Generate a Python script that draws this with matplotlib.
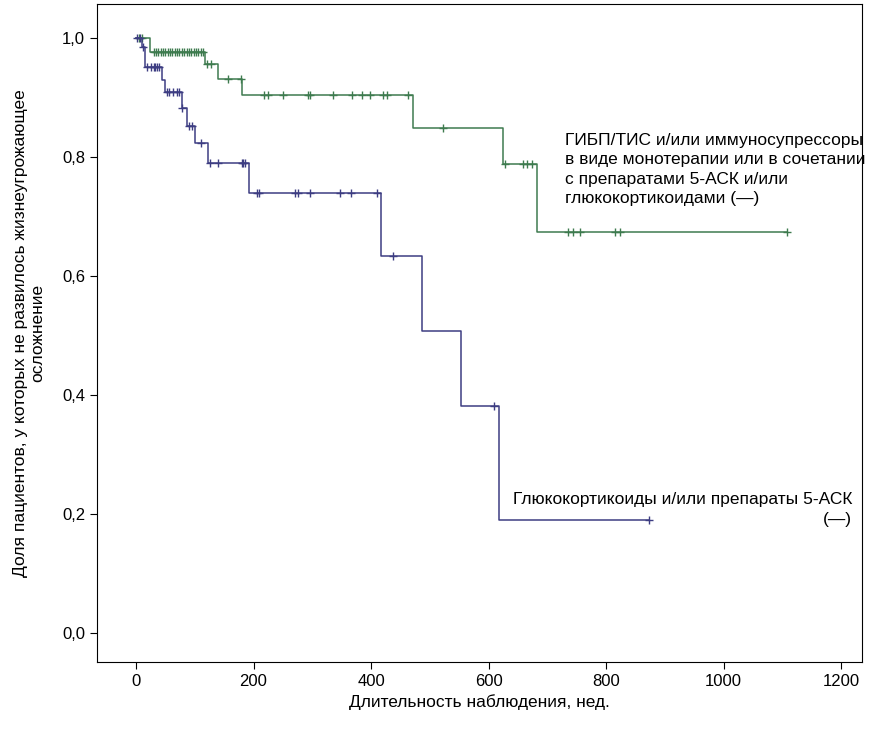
import matplotlib
matplotlib.use("Agg")
import matplotlib.pyplot as plt
import numpy as np

plt.rcParams['font.family'] = ['Liberation Sans', 'DejaVu Sans']

# Green group: step times and survival levels after each step
g_times = [0, 24, 117, 140, 180, 471, 625, 682]
g_levels = [1.0, 0.977, 0.956, 0.931, 0.904, 0.848, 0.788, 0.674]
g_end = 1108
g_cens = [5, 10, 30, 34, 38, 42, 46, 50, 54, 58, 62, 66, 70, 74, 78, 82, 86, 90, 94, 98, 102, 106, 110, 114,
          121, 128, 157, 179, 218, 225, 250, 293, 296, 335, 367, 384, 398, 420, 427, 463,
          523, 628, 659, 665, 674, 735, 744, 756, 815, 824, 1108]

# Blue group
b_times = [0, 10, 15, 44, 49, 78, 87, 100, 122, 192, 417, 487, 553, 618]
b_levels = [1.0, 0.985, 0.951, 0.929, 0.909, 0.882, 0.852, 0.824, 0.790, 0.740, 0.634, 0.508, 0.381, 0.190]
b_end = 873
b_cens = [2, 7, 12, 19, 25, 30, 33, 36, 39, 53, 57, 63, 70, 73, 78, 90, 95, 111, 126, 140, 180, 182, 185,
          206, 210, 271, 276, 296, 347, 366, 410, 438, 609, 873]

def level_at(times, levels, t):
    idx = np.searchsorted(times, t, side='right') - 1
    return levels[idx]

fig = plt.figure(figsize=(8.76, 7.33), dpi=100)
ax = fig.add_axes([97/876, 1-662/733, (862-97)/876, (662-4)/733])

green = '#3e7b4f'
blue = '#3d3d82'
for times, levels, end, cens, c in [(g_times, g_levels, g_end, g_cens, green),
                                     (b_times, b_levels, b_end, b_cens, blue)]:
    xs = list(times) + [end]
    ys = list(levels) + [levels[-1]]
    ax.step(xs, ys, where='post', color=c, lw=1.1)
    cy = [level_at(times, levels, t) for t in cens]
    ax.plot(cens, cy, linestyle='none', marker='+', color=c, ms=6, mew=1)

ax.set_xlim(-66.4, 1235.7)
ax.set_ylim(-0.0487, 1.057)
ax.set_xticks([0, 200, 400, 600, 800, 1000, 1200])
ax.set_yticks([0.0, 0.2, 0.4, 0.6, 0.8, 1.0])
ax.set_yticklabels(['0,0', '0,2', '0,4', '0,6', '0,8', '1,0'])
ax.tick_params(labelsize=12, length=5)
for s in ax.spines.values():
    s.set_linewidth(0.8)
ax.set_xlabel('Длительность наблюдения, нед.', fontsize=12.5)
ax.set_ylabel('Доля пациентов, у которых не развилось жизнеугрожающее\nосложнение', fontsize=12.5, labelpad=12)

ax.text(730, 0.84, 'ГИБП/ТИС и/или иммуносупрессоры\nв виде монотерапии или в сочетании\nс препаратами 5-АСК и/или\nглюкокортикоидами (—)',
        fontsize=12.5, va='top', ha='left', linespacing=1.35)
ax.text(1219, 0.178, 'Глюкокортикоиды и/или препараты 5-АСК\n(—)', fontsize=12.5,
        va='bottom', ha='right', multialignment='right', linespacing=1.45)

fig.savefig('out.png', dpi=100)
